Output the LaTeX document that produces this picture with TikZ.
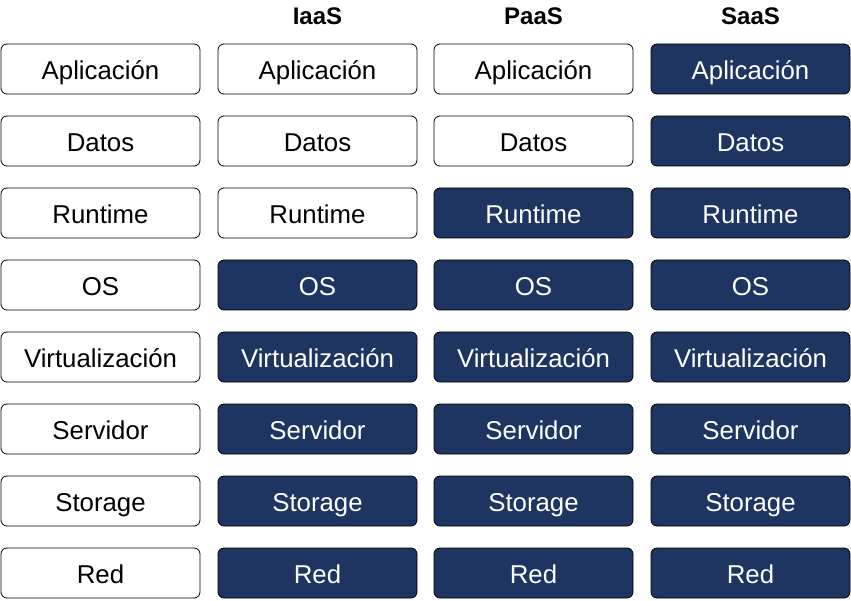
\documentclass[tikz,border=0pt]{standalone}
\usepackage{fontspec}
\setmainfont{Liberation Sans}
\definecolor{navy}{HTML}{1E3461}
\begin{document}
\begin{tikzpicture}[x=1pt,y=-1pt,
    layer/.style={draw=black, line width=0.8pt, rounded corners=6pt,
      minimum width=199pt, minimum height=50pt, inner sep=0pt,
      text height=21pt, text depth=0pt, font=\fontsize{25.8}{30}\selectfont},
    managed/.style={layer, fill=navy, text=white},
    header/.style={font=\fontsize{24}{28}\selectfont\bfseries}]
    \useasboundingbox (0,0) rectangle (851,601);
    % one row per layer, one column per model
    \foreach \lbl [count=\r] in {Aplicación,Datos,Runtime,OS,Virtualización,Servidor,Storage,Red} {
      \foreach \x/\lim [count=\c] in {100.5/9,317.5/4,533.5/3,750.5/1} {
        \ifnum\r<\lim
          \node[layer] (l\c-\r) at (\x,{69+72*(\r-1)}) {\lbl};
        \else
          \node[managed] (l\c-\r) at (\x,{69+72*(\r-1)}) {\lbl};
        \fi
      }
    }
    % headers
    \node[header] (iaas) at (l2-1.north |- 0,16) {IaaS};
    \node[header] (paas) at (l3-1.north |- 0,16) {PaaS};
    \node[header] (saas) at (l4-1.north |- 0,16) {SaaS};
\end{tikzpicture}
\end{document}
